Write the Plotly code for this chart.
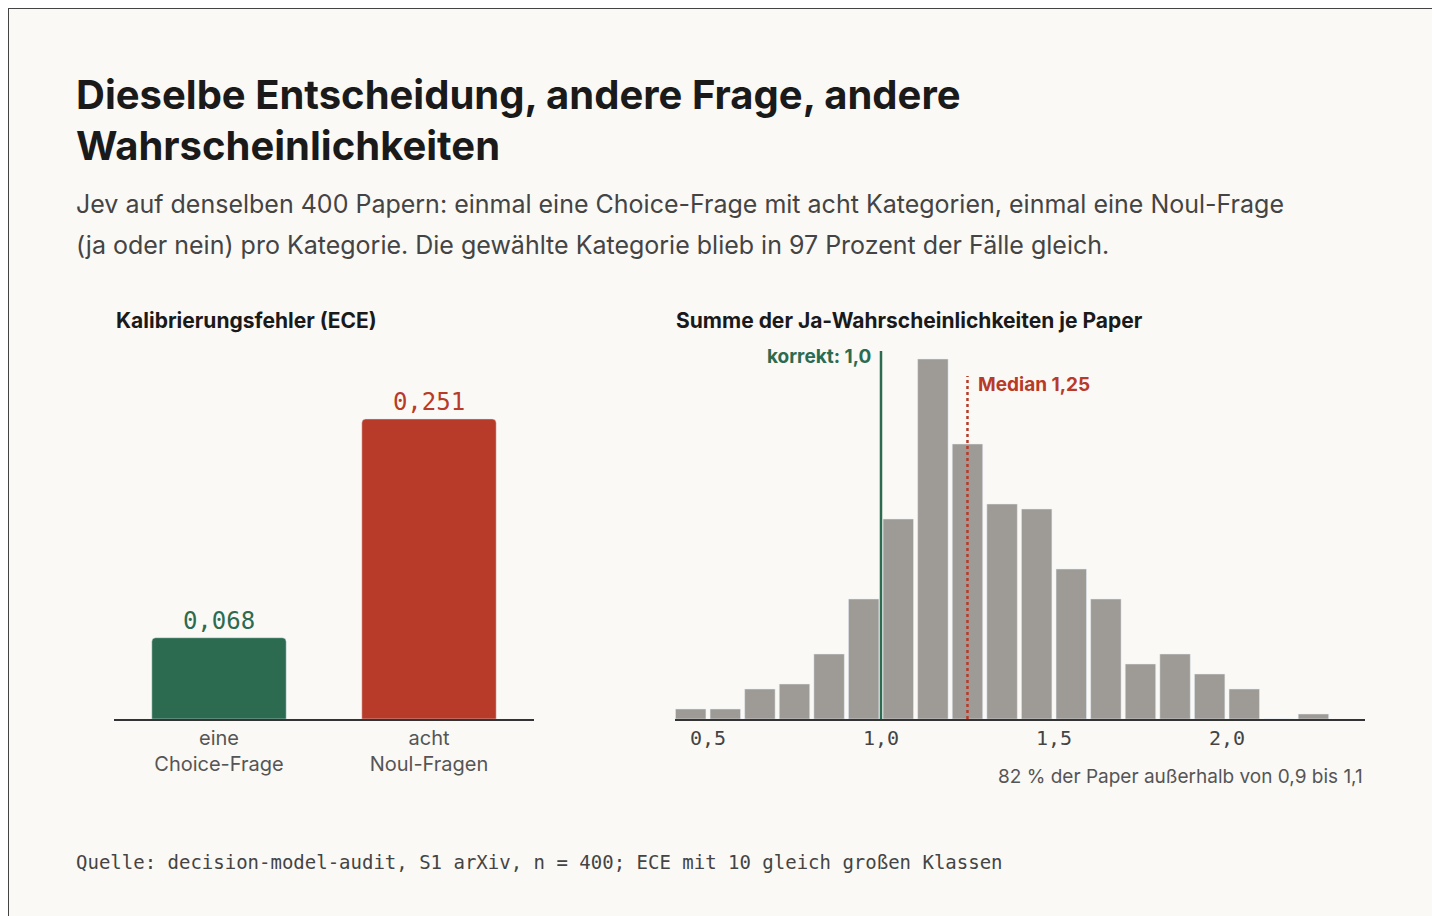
import plotly.graph_objects as go

W, H = 1440, 916
def px(x): return x / W
def py(y): return 1 - y / H

cats = ["eine<br>Choice-Frage", "acht<br>Noul-Fragen"]
ece = [0.068, 0.251]
ece_labels = ["0,068", "0,251"]
bin_centers = [0.45,0.55,0.65,0.75,0.85,0.95,1.05,1.15,1.25,1.35,1.45,1.55,1.65,1.75,1.85,1.95,2.05,2.15,2.25]
counts = [2,2,6,7,13,24,40,72,55,43,42,30,24,11,13,9,6,0,1]
ticks = [0.5, 1.0, 1.5, 2.0]
tick_labels = ["0,5", "1,0", "1,5", "2,0"]
correct = 1.0
median = 1.25

GREEN = "#2c6b50"; RED = "#b83a28"; GRAY = "#9e9a95"
SANS = "Inter, Noto Sans, sans-serif"; MONO = "DejaVu Sans Mono, monospace"

fig = go.Figure()
fig.add_bar(x=cats, y=ece, marker=dict(color=[GREEN, RED], cornerradius=4),
            text=ece_labels, textposition="outside", cliponaxis=False,
            textfont=dict(family=MONO, size=24, color=[GREEN, RED]),
            width=0.64, xaxis="x", yaxis="y", hoverinfo="skip")
fig.add_bar(x=bin_centers, y=counts, width=0.088, marker=dict(color=GRAY),
            xaxis="x2", yaxis="y2", hoverinfo="skip")

ybot, ytop = py(711), py(350)
fig.update_layout(
    width=W, height=H, margin=dict(l=0, r=0, t=0, b=0), showlegend=False,
    paper_bgcolor="#faf9f6", plot_bgcolor="rgba(0,0,0,0)",
    xaxis=dict(domain=[px(106), px(526)], showline=True, linecolor="#333", linewidth=1.5,
               ticks="", tickfont=dict(family=SANS, size=20, color="#555"), fixedrange=True),
    yaxis=dict(domain=[ybot, ytop], range=[0, 0.302], visible=False),
    xaxis2=dict(domain=[px(667), px(1357)], range=[0.4046, 2.399], anchor="y2",
                showline=True, linecolor="#333", linewidth=1.5, ticks="",
                tickvals=ticks, ticktext=tick_labels, showgrid=False, zeroline=False,
                tickfont=dict(family=MONO, size=20, color="#444")),
    yaxis2=dict(domain=[ybot, ytop], range=[0, 72.2], visible=False, anchor="x2"),
)
fig.update_xaxes(showgrid=False)

fig.add_shape(type="line", xref="x2", yref="paper", x0=correct, x1=correct, y0=ybot, y1=py(343),
              line=dict(color=GREEN, width=2.5))
fig.add_shape(type="line", xref="x2", yref="paper", x0=median, x1=median, y0=ybot, y1=py(368),
              line=dict(color=RED, width=2.5, dash="dot"))
fig.add_shape(type="rect", xref="paper", yref="paper", x0=0, x1=1, y0=0, y1=1,
              line=dict(color="#444", width=2), layer="below")

def txt(x, y, s, size, color, family=SANS, anchor="left", bold=False):
    if bold: s = "<b>" + s + "</b>"
    fig.add_annotation(x=px(x), y=py(y), xref="paper", yref="paper", text=s, showarrow=False,
                       xanchor=anchor, yanchor="middle", font=dict(family=family, size=size, color=color),
                       align=anchor)

txt(66, 86, "Dieselbe Entscheidung, andere Frage, andere", 40, "#1a1a1a", bold=True)
txt(66, 137, "Wahrscheinlichkeiten", 40, "#1a1a1a", bold=True)
txt(66, 196, "Jev auf denselben 400 Papern: einmal eine Choice-Frage mit acht Kategorien, einmal eine Noul-Frage", 25, "#444")
txt(66, 237, "(ja oder nein) pro Kategorie. Die gewählte Kategorie blieb in 97 Prozent der Fälle gleich.", 25, "#444")
txt(106, 312, "Kalibrierungsfehler (ECE)", 21, "#1a1a1a", bold=True)
txt(666, 312, "Summe der Ja-Wahrscheinlichkeiten je Paper", 21, "#1a1a1a", bold=True)
txt(865, 348, "korrekt: 1,0", 19, GREEN, anchor="right", bold=True)
txt(968, 376, "Median 1,25", 19, RED, bold=True)
txt(1357, 768, "82 % der Paper außerhalb von 0,9 bis 1,1", 19, "#555", anchor="right")
txt(66, 854, "Quelle: decision-model-audit, S1 arXiv, n = 400; ECE mit 10 gleich großen Klassen", 19, "#444", family=MONO)

fig.write_html("out.html")
